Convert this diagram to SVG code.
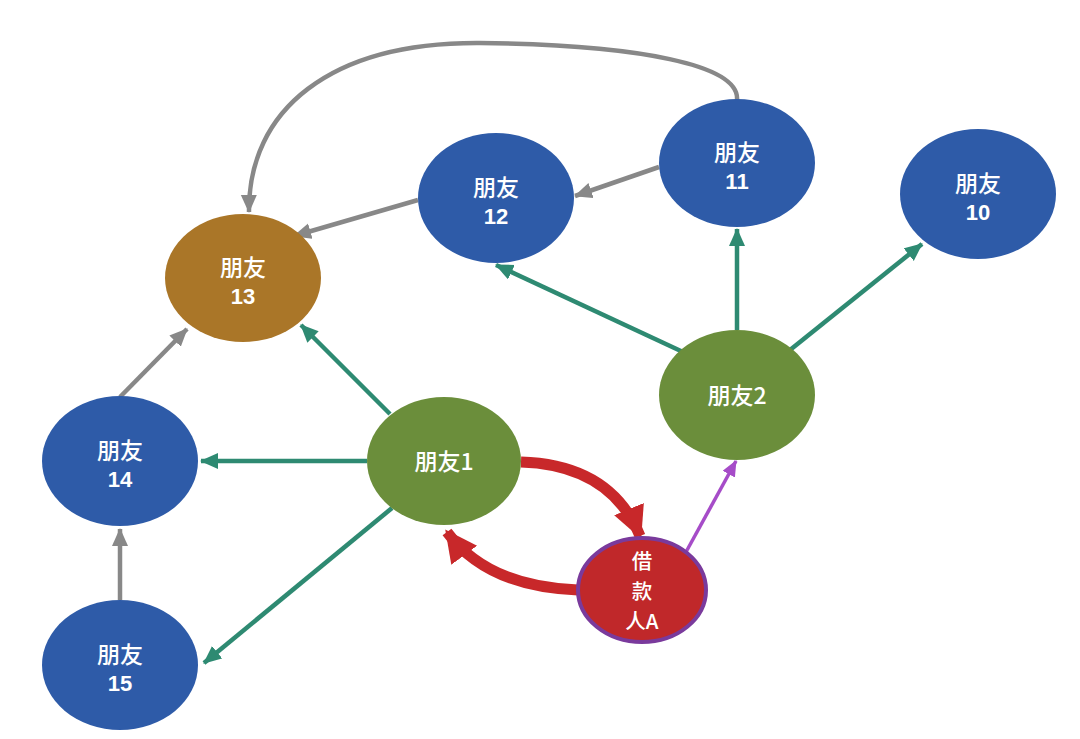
<svg xmlns="http://www.w3.org/2000/svg" width="1080" height="739" viewBox="0 0 1080 739">
<defs>
<style>
.blue{fill:#2E5BA8}
.green{fill:#6B8E3B}
.orange{fill:#AA7628}
.red{fill:#C0282A;stroke:#7A3A9C;stroke-width:4}
text{font-family:"Noto Sans CJK SC","Noto Sans",sans-serif;fill:#fff;font-size:23px;text-anchor:middle;font-weight:500}
.num{font-family:"Liberation Sans",Arial,sans-serif;font-size:22px;font-weight:bold}
.bw{font-size:20.5px}
.teal{stroke:#2E8A72;stroke-width:4.5;fill:none;marker-end:url(#mt)}
.gray{stroke:#888;stroke-width:4.5;fill:none;marker-end:url(#mg)}
.redc{stroke:#C8282A;stroke-width:11;fill:none;marker-end:url(#mr)}
.purp{stroke:#A64CC8;stroke-width:3.5;fill:none;marker-end:url(#mp)}
</style>
<marker id="mt" markerUnits="userSpaceOnUse" markerWidth="20" markerHeight="20" refX="17" refY="8" orient="auto"><path d="M0,0 L18,8 L0,16 z" fill="#2E8A72"/></marker>
<marker id="mg" markerUnits="userSpaceOnUse" markerWidth="20" markerHeight="20" refX="17" refY="8" orient="auto"><path d="M0,0 L18,8 L0,16 z" fill="#888"/></marker>
<marker id="mr" markerUnits="userSpaceOnUse" markerWidth="36" markerHeight="36" refX="29" refY="16" orient="auto"><path d="M0,0 L32,16 L0,32 z" fill="#C8282A"/></marker>
<marker id="mp" markerUnits="userSpaceOnUse" markerWidth="20" markerHeight="20" refX="15" refY="7" orient="auto"><path d="M0,0 L16,7 L0,14 z" fill="#A64CC8"/></marker>
</defs>
<g id="connectors">
<line class="teal" x1="367" y1="461" x2="201" y2="461"/>
<line class="teal" x1="392" y1="508" x2="204" y2="663"/>
<line class="teal" x1="390" y1="414" x2="301" y2="325"/>
<line class="teal" x1="683" y1="352" x2="496" y2="265"/>
<line class="teal" x1="737" y1="330" x2="737" y2="229"/>
<line class="teal" x1="790" y1="350" x2="922" y2="244"/>
<line class="gray" x1="120" y1="600" x2="120" y2="529"/>
<line class="gray" x1="120" y1="397" x2="187" y2="329"/>
<line class="gray" x1="418" y1="200" x2="294" y2="236"/>
<line class="gray" x1="659" y1="167" x2="575" y2="196"/>
<path class="gray" d="M737,100 C740,65 640,45 480,43 C330,42 248,110 249,212"/>
<path class="redc" d="M521,462 C585,464 622,492 640,536"/>
<path class="redc" d="M578,590 C520,588 475,570 447,532"/>
<line class="purp" x1="686" y1="552" x2="736" y2="461"/>
</g>
<g id="n13"><ellipse class="orange" cx="243" cy="278" rx="78" ry="64"/><text x="243" y="276">朋友<tspan class="num" x="243" dy="28">13</tspan></text></g>
<g id="n12"><ellipse class="blue" cx="496" cy="198" rx="78" ry="65"/><text x="496" y="196">朋友<tspan class="num" x="496" dy="28">12</tspan></text></g>
<g id="n11"><ellipse class="blue" cx="737" cy="163" rx="78" ry="64"/><text x="737" y="161">朋友<tspan class="num" x="737" dy="28">11</tspan></text></g>
<g id="n10"><ellipse class="blue" cx="978" cy="194" rx="78" ry="65"/><text x="978" y="192">朋友<tspan class="num" x="978" dy="28">10</tspan></text></g>
<g id="n14"><ellipse class="blue" cx="120" cy="461" rx="78" ry="65"/><text x="120" y="459">朋友<tspan class="num" x="120" dy="28">14</tspan></text></g>
<g id="n15"><ellipse class="blue" cx="120" cy="665" rx="78" ry="65"/><text x="120" y="663">朋友<tspan class="num" x="120" dy="28">15</tspan></text></g>
<g id="n1"><ellipse class="green" cx="444" cy="461" rx="77" ry="64"/><text x="444" y="470">朋友1</text></g>
<g id="n2"><ellipse class="green" cx="737" cy="395" rx="78" ry="65"/><text x="737" y="404">朋友2</text></g>
<g id="borrowerA"><ellipse class="red" cx="642" cy="590" rx="64" ry="52"/><text class="bw" x="642" y="569">借<tspan x="642" dy="30">款</tspan><tspan x="642" dy="30">人A</tspan></text></g>
</svg>
